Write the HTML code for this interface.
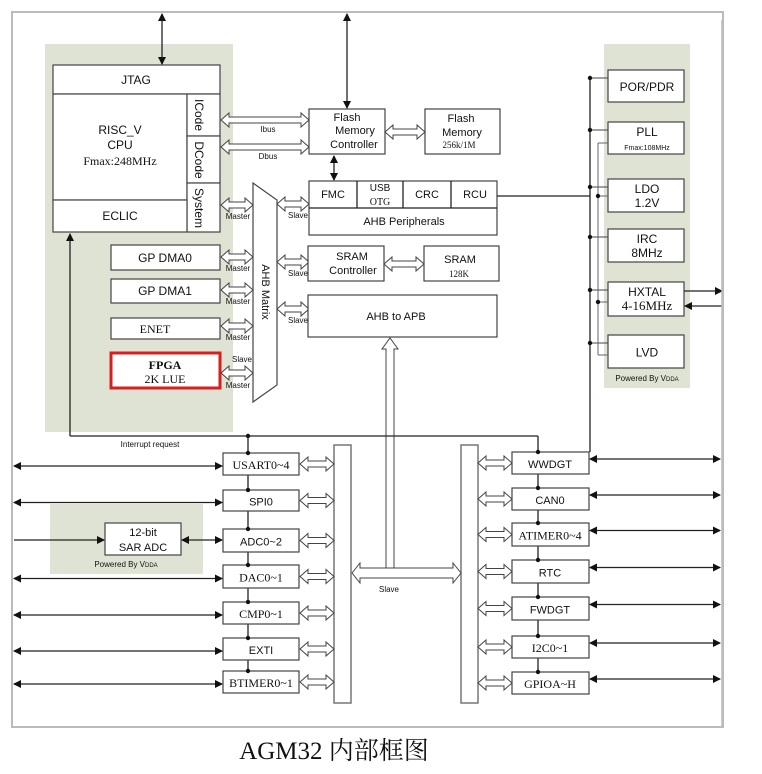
<!DOCTYPE html>
<html><head><meta charset="utf-8"><style>
body{margin:0;background:#fff}
svg text{font-family:"Liberation Sans",sans-serif;fill:#111}
.s{font-family:"Liberation Serif","Noto Serif CJK SC",serif}
</style></head><body>
<svg id="g" width="762" height="769" xmlns="http://www.w3.org/2000/svg">
<defs><marker id="a" markerWidth="8" markerHeight="8" refX="7" refY="4" orient="auto-start-reverse" markerUnits="userSpaceOnUse"><path d="M0,0L8,4L0,8z" fill="#111"/></marker></defs>
<rect x="12" y="12" width="711" height="715" fill="none" stroke="#bbb" stroke-width="2"/>
<rect x="45" y="44" width="188" height="388" fill="#dfe3d3"/>
<rect x="604" y="44" width="86" height="344" fill="#dfe3d3"/>
<rect x="50" y="504" width="153" height="70" fill="#dfe3d3"/>
</svg>
<script>
const g=document.getElementById('g');let h='';
function R(x,y,w,hh,sw,c){h+=`<rect x="${x}" y="${y}" width="${w}" height="${hh}" fill="#fff" stroke="${c||'#444'}" stroke-width="${sw||1.2}"/>`}
function T(x,y,t,s,cls,anch,extra){h+=`<text x="${x}" y="${y}" font-size="${s}" text-anchor="${anch||'middle'}" ${cls?'class="'+cls+'"':''} ${extra||''}>${t}</text>`}
function L(x1,y1,x2,y2,m1,m2,c,w){h+=`<line x1="${x1}" y1="${y1}" x2="${x2}" y2="${y2}" stroke="${c||'#222'}" stroke-width="${w||1.3}" ${m1?'marker-start="url(#a)"':''} ${m2?'marker-end="url(#a)"':''}/>`}
function D(x,y){h+=`<circle cx="${x}" cy="${y}" r="2.2" fill="#111"/>`}
function HA(x1,x2,y,a,b){a=a||7;b=b||3;const k=8;h+=`<polygon points="${x1},${y} ${x1+k},${y-a} ${x1+k},${y-b} ${x2-k},${y-b} ${x2-k},${y-a} ${x2},${y} ${x2-k},${y+a} ${x2-k},${y+b} ${x1+k},${y+b} ${x1+k},${y+a}" fill="#fff" stroke="#444" stroke-width="1"/>`}
R(53,65,167,29);T(136,84,'JTAG',12);
R(53,94,134,106);T(120,134,'RISC_V',12);T(120,149,'CPU',12);T(120,165,'Fmax:248MHz',12,'s');
R(187,94,33,42);R(187,136,33,47);R(187,183,33,49);R(53,200,134,32);T(120,220,'ECLIC',12);
T(198,115,'ICode',12,'','middle','transform="rotate(90 198 115)" dominant-baseline="middle"');
T(198,160,'DCode',12,'','middle','transform="rotate(90 198 160)" dominant-baseline="middle"');
T(198,208,'System',12,'','middle','transform="rotate(90 198 208)" dominant-baseline="middle"');
L(162,14,162,64,1,1);L(347,14,347,108,1,1);
R(111,245,109,25);T(165,262,'GP DMA0',12);R(111,279,109,24);T(165,295,'GP DMA1',12);
R(111,318,109,21);T(155,333,'ENET',12,'s');
R(111,353,109,35,3,'#d42020');T(165,369,'FPGA',12,'s','middle','font-weight="bold"');T(165,383,'2K LUE',12,'s');
h+='<polygon points="253,183 277,200 277,385 253,402" fill="#fff" stroke="#444" stroke-width="1.2"/>';
T(265,292,'AHB Matrix',11,'','middle','transform="rotate(90 265 292)" dominant-baseline="middle"');
HA(221,309,120);HA(221,309,147);T(268,132,'Ibus',8);T(268,159,'Dbus',8);
[[209,'Master'],[261,'Master'],[294,'Master'],[330,'Master']].forEach(([y,t])=>{HA(221,253,y-4);T(238,y+10,t,8)});
HA(221,253,373);T(242,362,'Slave',8);T(238,388,'Master',8);
[[207],[265],[312]].forEach(([y])=>{HA(277,309,y-3);T(298,y+11,'Slave',8)});
R(309,109,76,45);T(347,121,'Flash',11);T(355,134,'Memory',11);T(354,148,'Controller',11);
R(425,109,75,45);T(461,122,'Flash',11);T(462,136,'Memory',11);T(459,148,'256k/1M',9,'s');
HA(385,425,132);L(334,156,334,180,1,1);
R(309,181,188,54);L(309,208,497,208);L(357,181,357,208);L(403,181,403,208);L(451,181,451,208);
T(333,198,'FMC',11);T(380,191,'USB',10);T(380,205,'OTG',10,'s');T(427,198,'CRC',11);T(475,198,'RCU',11);T(404,225,'AHB Peripherals',11);
R(308,246,76,35);T(352,260,'SRAM',11);T(353,274,'Controller',11);R(424,246,75,35);T(460,263,'SRAM',11);T(459,277,'128K',9,'s');HA(384,424,264);
R(308,295,189,42);T(396,320,'AHB to APB',11);
h+='<polygon points="386,349 386,568 394,568 394,349 398,349 390,338 382,349" fill="#fff" stroke="#444"/>';
L(497,196,590,196);L(590,80,590,452);
[['POR/PDR',70,102,'',''],['PLL',122,154,'Fmax:108MHz',''],['LDO',179,212,'1.2V',''],['IRC',229,262,'8MHz',''],['HXTAL',282,316,'4-16MHz','s'],['LVD',335,368,'','']].forEach(([t,y1,y2,t2,c])=>{R(608,y1,76,y2-y1);
 if(t2){T(647,y1+14,t,12);T(647,y1+28,t2,t2=='Fmax:108MHz'?7:(c?13:12),c)}else T(647,(y1+y2)/2+5,t,12);L(590,y1+8,608,y1+8,0,0,'#444',1);D(590,y1+8);});
L(598,143,598,355,0,0,'#666',1);L(598,143,608,143,0,0,'#666',1);L(598,196,608,196,0,0,'#666',1);D(598,196);L(598,302,608,302,0,0,'#666',1);D(598,302);L(598,355,608,355,0,0,'#666',1);
L(684,291,722,291,0,1);L(722,306,685,306,0,1,'#222');L(722,20,722,727,0,0,'#bbb',1.5);
T(647,381,'Powered By V<tspan font-size="6">DDA</tspan>',8);
L(70,436,70,234,0,1);L(70,436,538,436);D(248,436);T(150,447,'Interrupt request',8);
R(334,445,17,258,1.5,'#777');R(461,445,17,258,1.5,'#777');
HA(352,461,573,10,5);T(389,592,'Slave',8);
const lb=[['USART0~4',453,475,'s'],['SPI0',490,511,''],['ADC0~2',529,552,''],['DAC0~1',565,588,'s'],['CMP0~1',602,624,'s'],['EXTI',638,660,''],['BTIMER0~1',671,693,'s']];
L(248,436,248,683);
lb.forEach(([t,y1,y2,c],i)=>{R(223,y1,76,y2-y1);const cy=(y1+y2)/2;T(261,cy+5,t,c?12:11,c);HA(300,334,cy);D(248,y1);
 if(i!=2)L(14,cy+2,222,cy+2,1,1);});
R(105,523,76,32);T(143,536,'12-bit',11);T(143,551,'SAR ADC',11);L(14,540,104,540,0,1);L(182,540,222,540,1,1);
T(126,567,'Powered By V<tspan font-size="6">DDA</tspan>',8);
const rb=[['WWDGT',452,474,''],['CAN0',488,510,''],['ATIMER0~4',523,546,'s'],['RTC',560,583,''],['FWDGT',597,620,''],['I2C0~1',636,658,'s'],['GPIOA~H',672,694,'s']];
L(538,436,538,684);
rb.forEach(([t,y1,y2,c])=>{R(512,y1,77,y2-y1);const cy=(y1+y2)/2;T(550,cy+5,t,c?12:11,c);HA(478,512,cy);D(538,y1);L(590,cy-4,720,cy-4,1,1);});
T(334,759,'AGM32 内部框图',25,'s');
g.insertAdjacentHTML('beforeend',h);
</script>
</body></html>
